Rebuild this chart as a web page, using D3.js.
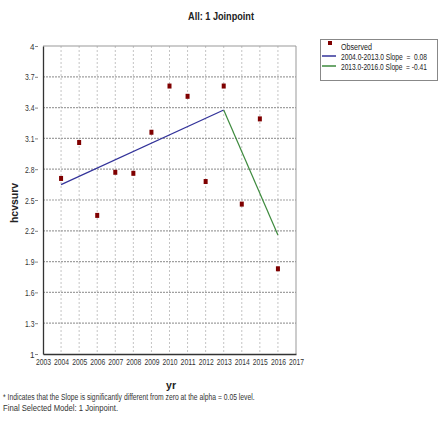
<!DOCTYPE html>
<html><head><meta charset="utf-8">
<script src="https://cdn.jsdelivr.net/npm/d3@7"></script>
<style>
body{margin:0;background:#fff;}
svg text{font-family:"Liberation Sans",Arial,sans-serif;white-space:pre;}
</style></head>
<body>
<script>
const years = [2004,2005,2006,2007,2008,2009,2010,2011,2012,2013,2014,2015,2016];
const observed = [2.71,3.06,2.35,2.77,2.76,3.16,3.61,3.51,2.68,3.61,2.46,3.29,1.83];
const seg1 = [[2004,2.65],[2013,3.377]];
const seg2 = [[2013,3.377],[2016,2.16]];
const xTicks = [2003,2004,2005,2006,2007,2008,2009,2010,2011,2012,2013,2014,2015,2016,2017];
const yTicks = [1,1.3,1.6,1.9,2.2,2.5,2.8,3.1,3.4,3.7,4];
const yTickLabels = ["1","1.3","1.6","1.9","2.2","2.5","2.8","3.1","3.4","3.7","4"];
const legendLabels = ["Observed","2004.0-2013.0 Slope  =  0.08","2013.0-2016.0 Slope  = -0.41"];
const colors = {obs:"#7f0000", s1:"#33339a", s2:"#3d8a3d"};

const W=439,H=424;
const svg=d3.select("body").append("svg").attr("width",W).attr("height",H);
const L=43,R=296,T=46,B=354;
const x=d3.scaleLinear().domain([2003,2017]).range([L,R]);
const y=d3.scaleLinear().domain([1,4]).range([B,T]);

function squeeze(sel, w){
  sel.each(function(d,i){
    const t=d3.select(this);
    const nat=this.getComputedTextLength();
    const target=typeof w==="function"?w(d,i):w;
    const s=target/nat;
    const x0=+t.attr("x")||0, y0=+t.attr("y")||0;
    t.attr("x",0).attr("y",0).attr("transform",`translate(${x0},${y0}) scale(${s},1)`);
  });
}

// gridlines
svg.append("g").selectAll("line").data(xTicks.slice(1,-1)).join("line")
  .attr("x1",d=>x(d)).attr("x2",d=>x(d)).attr("y1",T).attr("y2",B)
  .attr("stroke","#c4c4c4").attr("stroke-dasharray","2,2").attr("stroke-width",1);
svg.append("g").selectAll("line").data(yTicks.slice(1,-1)).join("line")
  .attr("x1",L).attr("x2",R).attr("y1",d=>y(d)).attr("y2",d=>y(d))
  .attr("stroke","#a0a0a0").attr("stroke-dasharray","2,1").attr("stroke-width",1.2);

// frame top/right
svg.append("line").attr("x1",L).attr("x2",R).attr("y1",T).attr("y2",T).attr("stroke","#999");
svg.append("line").attr("x1",R).attr("x2",R).attr("y1",T).attr("y2",B).attr("stroke","#999");

// axes
const yAxis=d3.axisLeft(y).tickValues(yTicks).tickFormat((d,i)=>yTickLabels[i]).tickSize(0).tickPadding(8.5);
const gy=svg.append("g").attr("transform",`translate(${L},0)`).call(yAxis);
gy.selectAll(".tick").append("line").attr("x1",-8).attr("x2",-5).attr("stroke","#888");
const xAxis=d3.axisBottom(x).tickValues(xTicks).tickFormat(d3.format("d")).tickSize(0).tickPadding(4);
const gx=svg.append("g").attr("transform",`translate(0,${B})`).call(xAxis);
[gx,gy].forEach(g=>{
  g.select(".domain").attr("stroke","#333").attr("stroke-width",1.3);
  g.selectAll("text").attr("font-size",9.8).attr("fill","#333")
   .style("font-family",'"Liberation Sans",Arial,sans-serif');
});
squeeze(gx.selectAll("text"),15);
squeeze(gy.selectAll("text"),d=>String(yTickLabels[yTicks.indexOf(d)]).length>1?9.5:4.5);

// lines
const line=d3.line().x(d=>x(d[0])).y(d=>y(d[1]));
svg.append("path").datum(seg1).attr("d",line).attr("fill","none").attr("stroke",colors.s1).attr("stroke-width",1.2);
svg.append("path").datum(seg2).attr("d",line).attr("fill","none").attr("stroke",colors.s2).attr("stroke-width",1.2);

// points
svg.append("g").selectAll("rect").data(years).join("rect")
  .attr("x",(d)=>x(d)-2).attr("y",(d,i)=>y(observed[i])-2.5).attr("width",4).attr("height",5)
  .attr("fill",colors.obs);

// title
const title=svg.append("text").attr("x",221).attr("y",20).attr("text-anchor","middle")
  .attr("font-size",10.5).attr("font-weight","bold").attr("fill","#222").text("All: 1 Joinpoint");
squeeze(title,66);

// axis titles
const xt=svg.append("text").attr("x",171).attr("y",389).attr("text-anchor","middle")
  .attr("font-size",11).attr("font-weight","bold").attr("fill","#222").text("yr");
squeeze(xt,10);
svg.append("text").attr("transform","translate(17.5,203) rotate(-90)").attr("text-anchor","middle")
  .attr("font-size",11).attr("font-weight","bold").attr("fill","#222")
  .attr("textLength",40).attr("lengthAdjust","spacingAndGlyphs").text("hcvsurv");

// footnotes
const f1=svg.append("text").attr("x",3).attr("y",399.5).attr("font-size",8.8).attr("fill","#333")
  .text("* Indicates that the Slope is significantly different from zero at the alpha = 0.05 level.");
squeeze(f1,252);
const f2=svg.append("text").attr("x",3).attr("y",410.5).attr("font-size",8.8).attr("fill","#333")
  .text("Final Selected Model: 1 Joinpoint.");
squeeze(f2,115);

// legend
const lg=svg.append("g");
lg.append("rect").attr("x",320.5).attr("y",39.5).attr("width",117).attr("height",41)
  .attr("fill","#fff").attr("stroke","#888");
lg.append("rect").attr("x",328).attr("y",41).attr("width",4).attr("height",4).attr("fill",colors.obs);
lg.append("line").attr("x1",322).attr("x2",336).attr("y1",56).attr("y2",56).attr("stroke",colors.s1).attr("stroke-width",1.5);
lg.append("line").attr("x1",322).attr("x2",336).attr("y1",66).attr("y2",66).attr("stroke",colors.s2).attr("stroke-width",1.5);
const legendLens=[31,86,86];
const lt=lg.selectAll("text").data(legendLabels).join("text")
  .attr("x",341).attr("y",(d,i)=>49.5+i*10).attr("font-size",9).attr("fill","#222").text(d=>d);
squeeze(lt,(d,i)=>legendLens[i]);
</script>
</body></html>
